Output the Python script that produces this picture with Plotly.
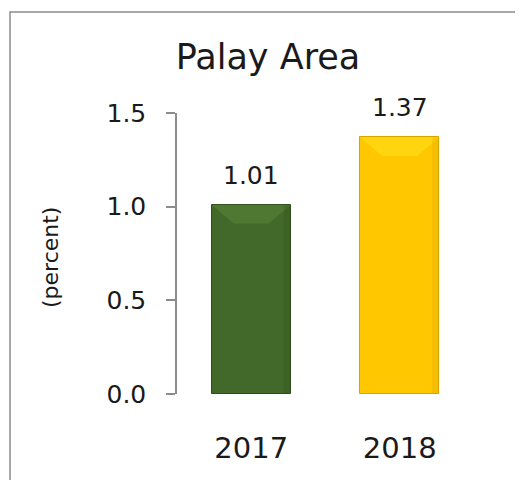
import plotly.graph_objects as go

categories = ["2017", "2018"]
values = [1.01, 1.37]
value_labels = ["1.01", "1.37"]
bar_colors = ["#43692A", "#FFC700"]
edge_colors = ["#2F4C1C", "#D9A300"]
top_colors = ["#5B8A3C", "#FFE31F"]
tick_vals = [0, 0.5, 1.0, 1.5]
tick_text = ["0.0", "0.5", "1.0", "1.5"]

FONT = "DejaVu Sans"
TXT = "#1a1a1a"
# page body has an 8px margin, so the figure is sized to fill the rest
W, H = 515, 472
L, R, T, B = 169, 49, 105, 86
BAR_W = 0.535

fig = go.Figure()
fig.add_trace(go.Bar(
    x=categories, y=values, width=BAR_W,
    marker=dict(color=bar_colors, line=dict(color=edge_colors, width=1)),
    hoverinfo="skip", showlegend=False,
))

shapes = []
pw, ph = W - L - R, H - T - B
shapes.append(dict(type="rect", xref="paper", yref="paper",
                   x0=(2 - L) / pw, x1=(514 - L) / pw,
                   y0=(H - B - 490) / ph, y1=(H - B - 4) / ph,
                   line=dict(color="#8c8c8c", width=1.5), fillcolor="rgba(0,0,0,0)",
                   layer="below"))
for i, v in enumerate(values):
    hx = BAR_W / 2
    ix = 0.15
    iy = 0.10
    path = (f"M {i - hx},{v} L {i + hx},{v} L {i + hx - ix},{v - iy} "
            f"L {i - hx + ix},{v - iy} Z")
    shapes.append(dict(type="path", xref="x", yref="y", path=path,
                       fillcolor=top_colors[i], opacity=0.5, line=dict(width=0),
                       layer="above"))
    shapes.append(dict(type="rect", xref="x", yref="y",
                       x0=i + hx - 0.05, x1=i + hx, y0=0, y1=v,
                       fillcolor=edge_colors[i], opacity=0.25, line=dict(width=0),
                       layer="above"))

annotations = []
for i, (v, t) in enumerate(zip(values, value_labels)):
    annotations.append(dict(x=i, y=v, text=t, xref="x", yref="y",
                            showarrow=False, yanchor="bottom", yshift=13,
                            font=dict(family=FONT, size=25, color=TXT)))
annotations.append(dict(x=(43 - L) / pw, y=0.484, xref="paper", yref="paper",
                        text="(percent)", textangle=-90, showarrow=False,
                        xanchor="center", yanchor="middle",
                        font=dict(family=FONT, size=22, color=TXT)))

fig.update_layout(
    width=W, height=H,
    margin=dict(l=L, r=R, t=T, b=B, autoexpand=False),
    paper_bgcolor="white", plot_bgcolor="white",
    title=dict(text="Palay Area", x=260 / W, xanchor="center",
               y=1 - 49 / H, yanchor="middle",
               font=dict(family=FONT, size=35, color=TXT)),
    xaxis=dict(type="category", showline=False, ticks="", showgrid=False,
               zeroline=False, range=[-0.5, 1.5], ticklabelstandoff=34,
               tickfont=dict(family=FONT, size=29, color=TXT)),
    yaxis=dict(range=[0, 1.5], tickvals=tick_vals, ticktext=tick_text,
               showline=True, linecolor="#8c8c8c", linewidth=1.5,
               ticks="outside", ticklen=9, tickcolor="#8c8c8c", tickwidth=1.5,
               showgrid=False, zeroline=False, ticklabelstandoff=15,
               tickfont=dict(family=FONT, size=25, color=TXT)),
    shapes=shapes, annotations=annotations,
    bargap=0,
)

fig.write_html("out.html")
